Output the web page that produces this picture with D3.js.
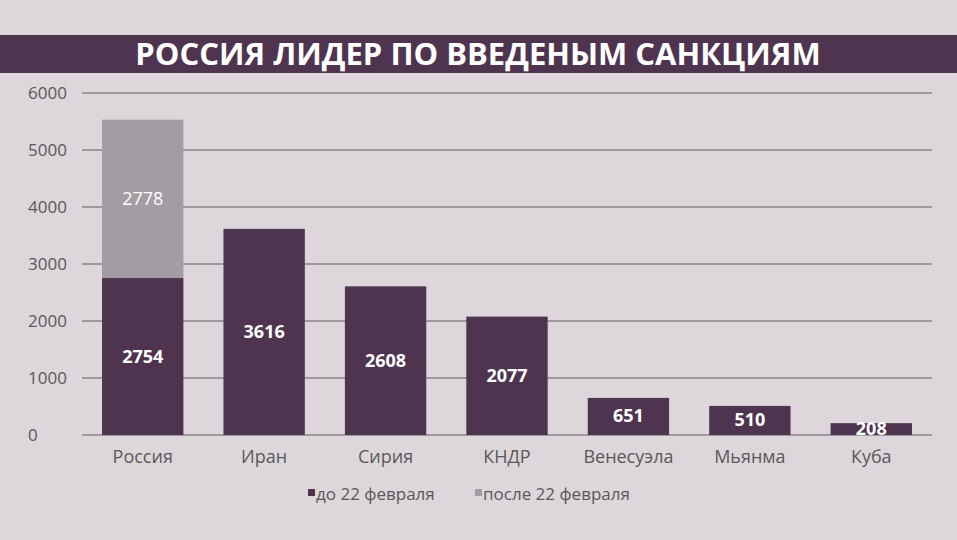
<!DOCTYPE html>
<html><head><meta charset="utf-8">
<script src="https://cdn.jsdelivr.net/npm/d3@7"></script>
<style>body{margin:0;background:#ddd6db;}svg{display:block;}</style>
</head><body>
<script>
const categories = ["Россия","Иран","Сирия","КНДР","Венесуэла","Мьянма","Куба"];
const before = [2754,3616,2608,2077,651,510,208];
const after = [2778,0,0,0,0,0,0];
const yTicks = [0,1000,2000,3000,4000,5000,6000];
const seriesNames = ["до 22 февраля","после 22 февраля"];
const colors = ["#4f3450","#a39ca2"];
const title = "РОССИЯ ЛИДЕР ПО ВВЕДЕНЫМ САНКЦИЯМ";

const W=957,H=540;
const svg=d3.select("body").append("svg").attr("width",W).attr("height",H);
svg.append("rect").attr("width",W).attr("height",H).attr("fill","#ddd6db");
svg.append("rect").attr("x",0).attr("y",35).attr("width",W).attr("height",38).attr("fill","#4f3450");
svg.append("text").attr("x",478).attr("y",65).attr("text-anchor","middle").attr("fill","#fff")
 .attr("font-family","Open Sans, Noto Sans, sans-serif").attr("font-weight","bold").attr("font-size",31).text(title);

const x=d3.scaleBand().domain(categories).range([82,932]).paddingInner(0.33).paddingOuter(0.165);
const y=d3.scaleLinear().domain([0,6000]).range([435,93]);
const font="Open Sans, Noto Sans, sans-serif";

svg.append("g").selectAll("line").data(yTicks).join("line")
 .attr("x1",82).attr("x2",932).attr("y1",d=>y(d)).attr("y2",d=>y(d))
 .attr("stroke","#8a848a").attr("stroke-width",1.3);
svg.append("g").selectAll("text").data(yTicks).join("text")
 .attr("x",28).attr("y",d=>y(d)+6).attr("fill","#595959").attr("font-family",font).attr("font-size",17).text(d=>d);

const stack=categories.map((c,i)=>({c,b:before[i],a:after[i]}));
const g=svg.append("g");
g.selectAll(".b").data(stack).join("rect").attr("x",d=>x(d.c)).attr("width",x.bandwidth())
 .attr("y",d=>y(d.b)).attr("height",d=>y(0)-y(d.b)).attr("fill",colors[0]);
g.selectAll(".a").data(stack.filter(d=>d.a>0)).join("rect").attr("x",d=>x(d.c)).attr("width",x.bandwidth())
 .attr("y",d=>y(d.b+d.a)).attr("height",d=>y(d.b)-y(d.b+d.a)).attr("fill",colors[1]);
g.selectAll(".lb").data(stack).join("text").attr("x",d=>x(d.c)+x.bandwidth()/2)
 .attr("y",d=>(y(0)+y(d.b))/2+6).attr("text-anchor","middle").attr("fill","#fff")
 .attr("font-family",font).attr("font-weight","bold").attr("font-size",18).text(d=>d.b);
g.selectAll(".la").data(stack.filter(d=>d.a>0)).join("text").attr("x",d=>x(d.c)+x.bandwidth()/2)
 .attr("y",d=>(y(d.b)+y(d.b+d.a))/2+6).attr("text-anchor","middle").attr("fill","#fff")
 .attr("font-family",font).attr("font-size",18).text(d=>d.a);

svg.append("g").selectAll("text").data(categories).join("text")
 .attr("x",d=>x(d)+x.bandwidth()/2).attr("y",463).attr("text-anchor","middle")
 .attr("fill","#595959").attr("font-family",font).attr("font-size",18).text(d=>d);

const lg=svg.append("g");
const lx=[308,475];
seriesNames.forEach((n,i)=>{
 lg.append("rect").attr("x",lx[i]).attr("y",489).attr("width",7).attr("height",7).attr("fill",colors[i]);
 lg.append("text").attr("x",lx[i]+8).attr("y",500).attr("fill","#595959").attr("font-family",font).attr("font-size",17).text(n);
});
</script>
</body></html>
